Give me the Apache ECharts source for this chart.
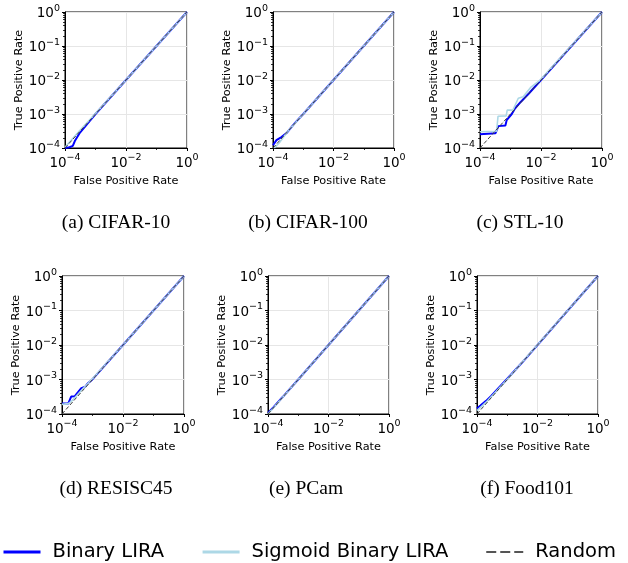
<!DOCTYPE html>
<html><head><meta charset="utf-8">
<script src="https://cdn.jsdelivr.net/npm/echarts@6/dist/echarts.min.js"></script>
<style>html,body{margin:0;padding:0;background:#fff}#c{width:628px;height:563px}</style>
</head><body><div id="c"></div>
<script>
// ---------- data ----------
const panelTitles = ['(a) CIFAR-10', '(b) CIFAR-100', '(c) STL-10', '(d) RESISC45', '(e) PCam', '(f) Food101'];
const seriesNames = ['Binary LIRA', 'Sigmoid Binary LIRA', 'Random'];
const xTickValues = [1e-4, 1e-2, 1];
const yTickValues = [1e-4, 1e-3, 1e-2, 1e-1, 1];
const yMinorTickValues = [2e-4,3e-4,4e-4,5e-4,6e-4,7e-4,8e-4,9e-4,2e-3,3e-3,4e-3,5e-3,6e-3,7e-3,8e-3,9e-3,2e-2,3e-2,4e-2,5e-2,6e-2,7e-2,8e-2,9e-2,2e-1,3e-1,4e-1,5e-1,6e-1,7e-1,8e-1,9e-1];
const xMinorTickValues = [1e-3, 1e-1];
const randomLine = [[1e-4, 1e-4], [1, 1]];

const cifar10Binary = [[1e-4,1.0e-4],[1.4e-4,1.05e-4],[1.8e-4,1.15e-4],[2.1e-4,1.6e-4],[3.1e-4,2.85e-4],[4e-4,3.7e-4],[6.3e-4,6.1e-4],[1e-3,1e-3],[1e-2,1e-2],[1,1]];
const cifar10Sigmoid = [[1e-4,1.05e-4],[3e-4,3.2e-4],[1e-3,1.03e-3],[1e-2,1e-2],[1,1]];

const cifar100Binary = [[1e-4,1.2e-4],[1.3e-4,1.7e-4],[1.9e-4,2.1e-4],[2.8e-4,2.75e-4],[5e-4,5.1e-4],[1e-3,1e-3],[1e-2,1e-2],[1,1]];
const cifar100Sigmoid = [[1.1e-4,1.0e-4],[1.6e-4,1.4e-4],[3e-4,3e-4],[1e-3,1e-3],[1,1]];

const stl10Binary = [[1e-4,2.55e-4],[3.2e-4,2.7e-4],[3.7e-4,3e-4],[4e-4,4.4e-4],[6.8e-4,4.6e-4],[7.5e-4,6.6e-4],[8.7e-4,7e-4],[1.1e-3,1.0e-3],[1.4e-3,1.45e-3],[2.2e-3,2.3e-3],[4e-3,4e-3],[1e-2,1e-2],[1,1]];
const stl10Sigmoid = [[1e-4,3.0e-4],[3.5e-4,3.1e-4],[3.9e-4,8.6e-4],[7.2e-4,8.8e-4],[7.8e-4,1.3e-3],[1.2e-3,1.3e-3],[1.8e-3,2.9e-3],[2.6e-3,3.2e-3],[4.7e-3,6.2e-3],[1e-2,1.05e-2],[1,1]];

const resisc45Binary = [[1e-4,2.0e-4],[1.6e-4,2.0e-4],[2.0e-4,3.2e-4],[2.6e-4,3.25e-4],[3.3e-4,4.2e-4],[4.3e-4,5.6e-4],[5.8e-4,6.2e-4],[7.1e-4,7.8e-4],[9.1e-4,9.3e-4],[1e-2,1e-2],[1,1]];
const resisc45Sigmoid = [[1e-4,1.9e-4],[1.6e-4,2.0e-4],[2.2e-4,2.5e-4],[3e-4,3.4e-4],[5e-4,5.6e-4],[1e-3,1.05e-3],[1e-2,1e-2],[1,1]];

const pcamBinary = [[1e-4,1.08e-4],[1.5e-4,1.55e-4],[3e-4,3.05e-4],[1e-3,1e-3],[1,1]];
const pcamSigmoid = [[1e-4,1.0e-4],[1e-3,1e-3],[1,1]];

const food101Binary = [[1e-4,1.45e-4],[1.3e-4,1.75e-4],[2e-4,2.4e-4],[3e-4,3.4e-4],[5e-4,5.5e-4],[1e-3,1.05e-3],[3e-3,3e-3],[1,1]];
const food101Sigmoid = [[1e-4,1.25e-4],[2e-4,2.2e-4],[5e-4,5.2e-4],[1e-3,1.02e-3],[1,1]];

const panelBinary = [cifar10Binary, cifar100Binary, stl10Binary, resisc45Binary, pcamBinary, food101Binary];
const panelSigmoid = [cifar10Sigmoid, cifar100Sigmoid, stl10Sigmoid, resisc45Sigmoid, pcamSigmoid, food101Sigmoid];

// ---------- layout ----------
const grids = [
  {left: 65, top: 12, width: 122, height: 136},
  {left: 273, top: 12, width: 121, height: 136},
  {left: 480, top: 12, width: 122, height: 136},
  {left: 62, top: 276, width: 122, height: 138},
  {left: 268, top: 276, width: 121, height: 138},
  {left: 477, top: 276, width: 121, height: 138}
];
const captionX = [111, 303, 515, 111, 301, 522];
const captionY = [222, 222, 222, 488, 488, 488];

function fmt(v) {
  const e = Math.round(Math.log10(v));
  return '{b|10}{s|' + String(e).replace('-', '\u2212') + '}';
}
const FONT = 'DejaVu Sans';
const richTick = {
  b: {fontFamily: FONT, fontSize: 13.5, color: '#000', verticalAlign: 'bottom'},
  s: {fontFamily: FONT, fontSize: 9.5, color: '#000', verticalAlign: 'bottom', padding: [0, 0, 7, 0]}
};

const option = {
  animation: false,
  backgroundColor: '#fff',
  grid: grids.map(g => Object.assign({show: true, borderColor: '#000', borderWidth: 1, backgroundColor: 'transparent'}, g)),
  title: panelTitles.map((t, i) => ({
    text: t, left: captionX[i], top: captionY[i] - 14, textAlign: 'center',
    textStyle: {fontFamily: 'Liberation Serif', fontSize: 19.5, fontWeight: 'normal', color: '#000'}
  })),
  xAxis: [],
  yAxis: [],
  series: [],
  legend: {
    left: -3, top: 537, width: 700, itemWidth: 37, itemHeight: 14, itemGap: 37,
    textStyle: {fontFamily: FONT, fontSize: 19.5, color: '#000', padding: [0, 0, 0, 7]},
    itemStyle: {opacity: 0},
    data: [
      {name: seriesNames[0], itemStyle: {opacity: 0}, lineStyle: {width: 3, color: '#0000ff', type: 'solid'}},
      {name: seriesNames[1], itemStyle: {opacity: 0}, lineStyle: {width: 3, color: '#add8e6', type: 'solid'}},
      {name: seriesNames[2], itemStyle: {opacity: 0}, lineStyle: {width: 2, color: '#555555', type: [10, 4]}}
    ]
  }
};

grids.forEach((g, i) => {
  option.xAxis.push({
    type: 'log', logBase: 10, gridIndex: i, min: 1e-4, max: 1, splitNumber: 2, interval: 2,
    name: 'False Positive Rate', nameLocation: 'middle', nameGap: 28,
    nameTextStyle: {fontFamily: FONT, fontSize: 11.3, color: '#000'},
    axisLine: {show: true, onZero: false, lineStyle: {color: '#000', width: 1}},
    axisTick: {show: true, length: 3, lineStyle: {color: '#000'}},
    axisLabel: {show: true, margin: 5, formatter: fmt, rich: richTick, customValues: xTickValues, showMinLabel: true, showMaxLabel: true},
    splitLine: {show: true, lineStyle: {color: '#e6e6e6', width: 1}},
    minorTick: {show: false}
  });
  option.yAxis.push({
    type: 'log', logBase: 10, gridIndex: i, min: 1e-4, max: 1, splitNumber: 4, interval: 1,
    name: 'True Positive Rate', nameLocation: 'middle', nameGap: 38,
    nameTextStyle: {fontFamily: FONT, fontSize: 11.3, color: '#000'},
    axisLine: {show: true, onZero: false, lineStyle: {color: '#000', width: 1}},
    axisTick: {show: true, length: 3, lineStyle: {color: '#000'}},
    axisLabel: {show: true, margin: 5, formatter: fmt, rich: richTick, customValues: yTickValues, showMinLabel: true, showMaxLabel: true},
    splitLine: {show: true, lineStyle: {color: '#e6e6e6', width: 1}}
  });
});
// minor tick helper axes
grids.forEach((g, i) => {
  option.yAxis.push({
    type: 'log', logBase: 10, gridIndex: i, min: 1e-4, max: 1, position: 'left',
    axisLine: {show: false}, axisLabel: {show: false}, splitLine: {show: false},
    axisTick: {show: true, length: 2, customValues: yMinorTickValues, lineStyle: {color: '#000', width: 0.8}}
  });
  option.xAxis.push({
    type: 'log', logBase: 10, gridIndex: i, min: 1e-4, max: 1, position: 'bottom',
    axisLine: {show: false}, axisLabel: {show: false}, splitLine: {show: false},
    axisTick: {show: true, length: 2, customValues: xMinorTickValues, lineStyle: {color: '#000', width: 0.8}}
  });
});

grids.forEach((g, i) => {
  const common = {xAxisIndex: i, yAxisIndex: i, type: 'line', symbol: 'none', silent: true, clip: true};
  option.series.push(Object.assign({name: seriesNames[0], data: panelBinary[i], lineStyle: {color: '#0000ff', width: 2}, itemStyle: {color: '#0000ff'}, z: 2}, common));
  option.series.push(Object.assign({name: seriesNames[1], data: panelSigmoid[i], lineStyle: {color: '#add8e6', width: 1.6}, itemStyle: {color: '#add8e6'}, z: 3}, common));
  option.series.push(Object.assign({name: seriesNames[2], data: randomLine, lineStyle: {color: '#404040', width: 1, type: [4, 2]}, itemStyle: {color: '#555555'}, z: 4}, common));
});

const chart = echarts.init(document.getElementById('c'), null, {renderer: 'canvas'});
chart.setOption(option);
</script>
</body></html>
